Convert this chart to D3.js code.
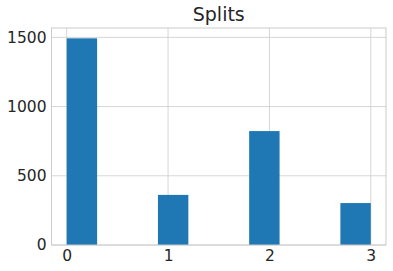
<!DOCTYPE html>
<html><head><meta charset="utf-8">
<script src="https://cdn.jsdelivr.net/npm/d3@7"></script>
<style>body{margin:0;background:#fff}svg{display:block}text{font-family:"DejaVu Sans",sans-serif;fill:#262626}</style>
</head><body>
<script>
const binStarts = [0, 0.3, 0.6, 0.9, 1.2, 1.5, 1.8, 2.1, 2.4, 2.7];
const counts    = [1493, 0, 0, 362, 0, 0, 823, 0, 0, 303];
const xTicks = [0, 1, 2, 3];
const yTicks = [0, 500, 1000, 1500];
const title = "Splits";
const binWidth = 0.3;

const W = 393, H = 271;
const m = {l: 51.5, r: 7, t: 28, b: 26};
const svg = d3.select("body").append("svg").attr("width", W).attr("height", H);
const pw = W - m.l - m.r, ph = H - m.t - m.b;
const g = svg.append("g").attr("transform", `translate(${m.l},${m.t})`);

const x = d3.scaleLinear().domain([-0.15, 3.15]).range([0, pw]);
const ymax = d3.max(counts) * 1.05;
const y = d3.scaleLinear().domain([0, ymax]).range([ph, 0]);

// grid
g.append("g").selectAll("line").data(xTicks).join("line")
  .attr("x1", d => x(d)).attr("x2", d => x(d)).attr("y1", 0).attr("y2", ph)
  .attr("stroke", "#cccccc").attr("stroke-width", 0.8);
g.append("g").selectAll("line").data(yTicks).join("line")
  .attr("y1", d => y(d)).attr("y2", d => y(d)).attr("x1", 0).attr("x2", pw)
  .attr("stroke", "#cccccc").attr("stroke-width", 0.8);

// bars
g.append("g").selectAll("rect").data(binStarts.map((s, i) => ({s, c: counts[i]})).filter(d => d.c > 0)).join("rect")
  .attr("x", d => x(d.s)).attr("width", d => x(d.s + binWidth) - x(d.s))
  .attr("y", d => y(d.c)).attr("height", d => ph - y(d.c))
  .attr("fill", "#1f77b4");

// spines
g.append("rect").attr("x", 0).attr("y", 0).attr("width", pw).attr("height", ph)
  .attr("fill", "none").attr("stroke", "#cccccc").attr("stroke-width", 1);

// axes
const xa = g.append("g").attr("transform", `translate(0,${ph})`)
  .call(d3.axisBottom(x).tickValues(xTicks).tickSize(0).tickPadding(5).tickFormat(d3.format("d")));
const ya = g.append("g")
  .call(d3.axisLeft(y).tickValues(yTicks).tickSize(0).tickPadding(5).tickFormat(d3.format("d")));
[xa, ya].forEach(a => { a.select(".domain").remove(); a.selectAll("text").attr("font-size", 15.5).attr("font-family", "DejaVu Sans").attr("fill", "#262626"); });
xa.selectAll("text").attr("dy", "0.71em");

svg.append("text").attr("x", m.l + pw / 2).attr("y", 21).attr("text-anchor", "middle")
  .attr("font-size", 19).text(title);
</script>
</body></html>
